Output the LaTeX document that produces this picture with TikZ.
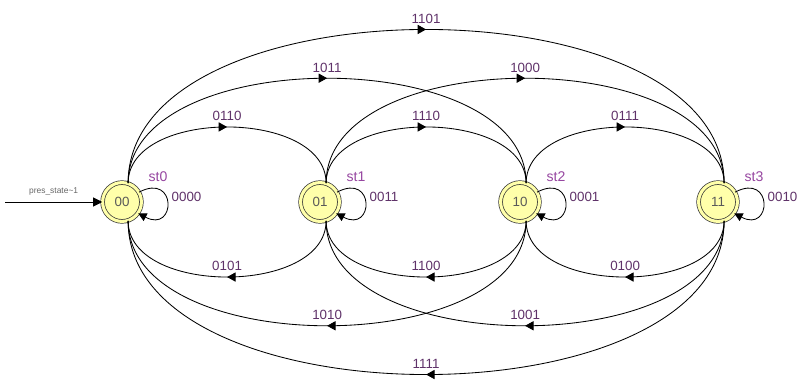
\documentclass[tikz,border=0pt]{standalone}
\usepackage{fontspec}
\setmainfont{Liberation Sans}
\usepackage{xcolor}
\usepackage{tikz}
\usetikzlibrary{arrows.meta, decorations.markings, positioning, calc}

\definecolor{stfill}{RGB}{255,255,170}
\definecolor{lblpurple}{RGB}{95,50,105}
\definecolor{stpurple}{RGB}{150,70,160}

\begin{document}
\begin{tikzpicture}[
  x=0.025cm, y=0.025cm,
  fsm/.style={circle, draw=black!80, line width=0.5pt,
    double=stfill, double distance=2.2pt, fill=stfill,
    minimum size=0.97cm, inner sep=0pt,
    font=\fontsize{9.5}{11}\selectfont, text=black!65},
  lbl/.style={font=\fontsize{9.5}{11}\selectfont, text=lblpurple, inner sep=1pt},
  stlbl/.style={font=\fontsize{10}{12}\selectfont, text=stpurple, inner sep=1pt},
  trans/.style={line width=0.6pt, postaction={decorate},
    decoration={markings, mark=at position 0.5 with
      {\arrow{Triangle[length=6pt,width=6.5pt]}}}},
  selfloop/.style={line width=0.6pt, -{Triangle[length=6pt,width=6pt]}},
]

\useasboundingbox (0,0) rectangle (801,381);

% states with their self loops
\foreach \n/\x/\st/\lp in {00/122/st0/0000, 01/320/st1/0011,
                           10/520/st2/0001, 11/718/st3/0010}{
  \node[fsm] (s\n) at (\x,179) {\n};
  \node[stlbl] (l\n) at ($(s\n)+(36,25)$) {\st};
  \node[lbl, anchor=west] (c\n) at ($(s\n)+(48,5)$) {\lp};
  \draw[selfloop] (s\n.30) .. controls +(38,20) and +(38,-20) .. (s\n.-35);
}

% initial transition
\coordinate (entry) at (5,179);
\draw[line width=0.6pt, -{Triangle[length=6.5pt,width=6.5pt]}] (entry) -- (s00.west)
  node[midway, above=1pt, font=\fontsize{6}{7}\selectfont, text=black!60] {pres\_state\textasciitilde 1};

% transitions over the top
\foreach \a/\b/\k/\t in {s00/s01/75/0110, s01/s10/75/1110, s10/s11/75/0111,
                         s00/s10/140/1011, s01/s11/140/1000, s00/s11/205/1101}{
  \draw[trans] (\a.72) .. controls +(0,\k) and +(0,\k) .. (\b.72)
    node[lbl, pos=0.5, above=3pt] {\t};
}

% transitions underneath
\foreach \a/\b/\k/\t in {s01/s00/75/0101, s10/s01/75/1100, s11/s10/75/0100,
                         s10/s00/140/1010, s11/s01/140/1001, s11/s00/205/1111}{
  \draw[trans] (\a.-72) .. controls +(0,-\k) and +(0,-\k) .. (\b.-72)
    node[lbl, pos=0.5, above=3pt] {\t};
}

\end{tikzpicture}
\end{document}
